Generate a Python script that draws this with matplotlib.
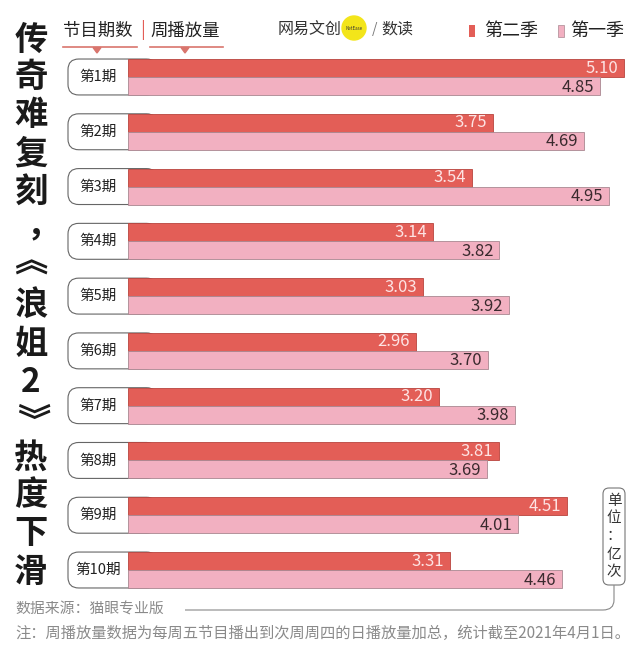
import matplotlib
matplotlib.use("Agg")
import matplotlib.pyplot as plt
from matplotlib.patches import FancyBboxPatch, Circle, Rectangle, Polygon, PathPatch
from matplotlib.path import Path
import numpy as np

plt.rcParams['font.family'] = ['Noto Sans CJK SC', 'DejaVu Sans']

episodes = ['第1期', '第2期', '第3期', '第4期', '第5期', '第6期', '第7期', '第8期', '第9期', '第10期']
season2 = [5.10, 3.75, 3.54, 3.14, 3.03, 2.96, 3.20, 3.81, 4.51, 3.31]
season1 = [4.85, 4.69, 4.95, 3.82, 3.92, 3.70, 3.98, 3.69, 4.01, 4.46]

title_chars = ['传', '奇', '难', '复', '刻', '，', '《', '浪', '姐', '2', '》', '热', '度', '下', '滑']

RED = '#e35e57'
PINK = '#f2b0c1'
W, H = 640, 656

fig = plt.figure(figsize=(6.4, 6.56), dpi=100)
fig.patch.set_facecolor('white')

# overlay for decorations, pixel coords
deco = fig.add_axes([0, 0, 1, 1])
deco.set_xlim(0, W)
deco.set_ylim(H, 0)
deco.axis('off')

# main bar axes
ax = fig.add_axes([128 / W, 1 - 597.4 / H, 512 / W, 547.8 / H])
ax.set_xlim(0, 512 / 97.25)
ax.set_ylim(9.5, -0.5)
ax.axis('off')

bh = 0.328
y = np.arange(len(episodes))
ax.barh(y - bh / 2, season2, height=bh, color=RED, edgecolor='#b8443e', linewidth=0.6, zorder=3)
ax.barh(y + bh / 2, season1, height=bh, color=PINK, edgecolor='#a98791', linewidth=0.6, zorder=3)

for i in range(len(episodes)):
    box = FancyBboxPatch((-0.617, i - bh), 0.617 + 0.3, 2 * bh,
                         boxstyle='round,pad=0,rounding_size=0.11', mutation_aspect=1.77,
                         facecolor='white', edgecolor='#666666', linewidth=0.8,
                         clip_on=False, zorder=1)
    ax.add_patch(box)
    ax.text(-0.31, i, episodes[i], ha='center', va='center', fontsize=10.5, color='#222222',
            clip_on=False)
    ax.text(season2[i] - 0.06, i - bh / 2, '%.2f' % season2[i], ha='right', va='center',
            fontsize=12, color='#fde3e3', zorder=4)
    ax.text(season1[i] - 0.06, i + bh / 2 + 0.02, '%.2f' % season1[i], ha='right', va='center',
            fontsize=12, color='#3a2a2e', zorder=4)

# vertical title
for k, ch in enumerate(title_chars):
    yy = 40 + 38 * k
    rot = 0
    dx = 0
    if ch == '《':
        rot = -90
        dx = -21
        yy += 7
    elif ch == '》':
        rot = -90
        dx = -1
        yy -= 1
    elif ch == '，':
        dx = 12
        yy -= 4
    deco.text(31 + dx, yy, ch, ha='center', va='center', fontsize=24, fontweight='black',
              color='#1a1a1a', rotation=rot)

# header
deco.text(63, 31, '节目期数', ha='left', va='center', fontsize=12.5, color='#222222')
deco.text(143, 30, '|', ha='center', va='center', fontsize=13, color=RED)
deco.text(150, 31, '周播放量', ha='left', va='center', fontsize=12.5, color='#222222')
deco.plot([63, 137], [47, 47], color='#d9756d', lw=1.2)
deco.plot([150, 223], [47, 47], color='#d9756d', lw=1.2)
deco.add_patch(Polygon([[93, 47.5], [101, 47.5], [97, 53]], closed=True, color='#d9756d'))
deco.add_patch(Polygon([[181, 47.5], [189, 47.5], [185, 53]], closed=True, color='#d9756d'))

# logo
deco.text(278, 29, '网易文创', ha='left', va='center', fontsize=11.5, color='#333333')
deco.add_patch(Circle((354, 28), 12, color='#f3e51a', zorder=2))
deco.text(354, 28.5, 'NetEase', ha='center', va='center', fontsize=3.2, color='#333333', zorder=3)
deco.text(372, 29, '/', ha='left', va='center', fontsize=10, color='#777777')
deco.text(381, 29, '数读', ha='left', va='center', fontsize=11.5, color='#333333')

# legend
deco.add_patch(Rectangle((469, 25), 6, 12, facecolor=RED, edgecolor='none'))
deco.text(484, 31, '第二季', ha='left', va='center', fontsize=13, color='#222222')
deco.add_patch(Rectangle((558, 25), 6, 12, facecolor=PINK, edgecolor='#a98791', lw=0.5))
deco.text(570, 31, '第一季', ha='left', va='center', fontsize=13, color='#222222')

# unit box
deco.add_patch(FancyBboxPatch((603, 488), 22, 97, boxstyle='round,pad=0,rounding_size=6',
                              facecolor='white', edgecolor='#777777', linewidth=0.8))
for ch, yy in zip(['单', '位', '：', '亿', '次'], [501, 518, 536, 555, 572]):
    deco.text(614, yy, ch, ha='center', va='center', fontsize=10.5, color='#333333')
line = Path([(614, 585), (614, 600), (614, 610), (603, 610), (185, 610)],
            [Path.MOVETO, Path.LINETO, Path.CURVE3, Path.CURVE3, Path.LINETO])
deco.add_patch(PathPatch(line, facecolor='none', edgecolor='#888888', lw=0.8))

# footer
deco.text(15, 610, '数据来源：猫眼专业版', ha='left', va='center', fontsize=10.7, color='#8a8a8a')
deco.text(15, 633, '注：周播放量数据为每周五节目播出到次周周四的日播放量加总，统计截至2021年4月1日。',
          ha='left', va='center', fontsize=11, color='#8a8a8a')

fig.savefig('out.png', dpi=100)
